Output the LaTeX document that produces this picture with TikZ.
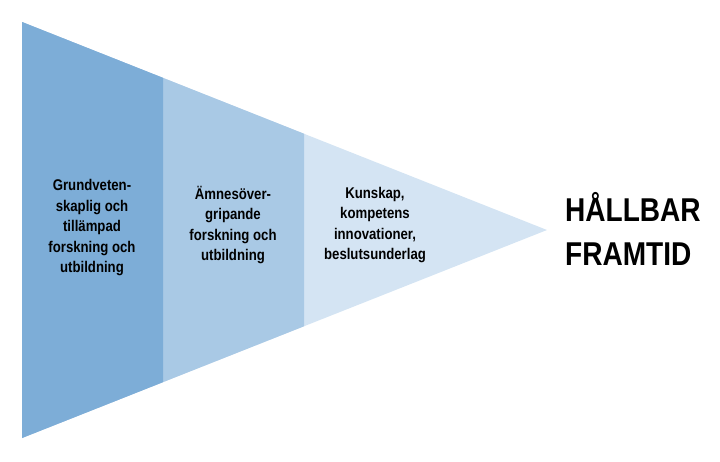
\documentclass[tikz,border=0pt]{standalone}
\usepackage{fontspec}
\usepackage{xcolor}
\usepackage{tikz}
\usetikzlibrary{positioning,calc}
\setmainfont{Liberation Sans}[FakeStretch=0.85]
\definecolor{deep}{HTML}{7DADD7}
\definecolor{mid}{HTML}{A9C9E5}
\definecolor{pale}{HTML}{D4E4F3}

\begin{document}
\begin{tikzpicture}[x=1pt,y=-1pt,every node/.style={font=\bfseries},part/.style={align=center,font=\bfseries\fontsize{15.5}{20.5}\selectfont,inner sep=0pt},goal/.style={align=left,font=\bfseries\fontsize{33}{44}\selectfont,inner sep=0pt}]
\useasboundingbox (0,0) rectangle (720,461);
\coordinate (top) at (22,22);
\coordinate (bot) at (22,438);
\coordinate (tip) at (547,230);
\fill[pale] (top)--(tip)--(bot)--cycle;
\fill[mid] (top)--($(top)!282/525!(tip)$)--($(bot)!282/525!(tip)$)--(bot)--cycle;
\fill[deep] (top)--($(top)!141/525!(tip)$)--($(bot)!141/525!(tip)$)--(bot)--cycle;
\node[part] (basic) at (92,228) {Grundveten-\\skaplig och\\tillämpad\\forskning och\\utbildning};
\node[part] (cross) at (233,225) {Ämnesöver-\\gripande\\forskning och\\utbildning};
\node[part] (know) at (375,225) {Kunskap,\\kompetens\\innovationer,\\beslutsunderlag};
\node[goal,anchor=west] (future) at (565,229) {HÅLLBAR\\FRAMTID};
\end{tikzpicture}
\end{document}
